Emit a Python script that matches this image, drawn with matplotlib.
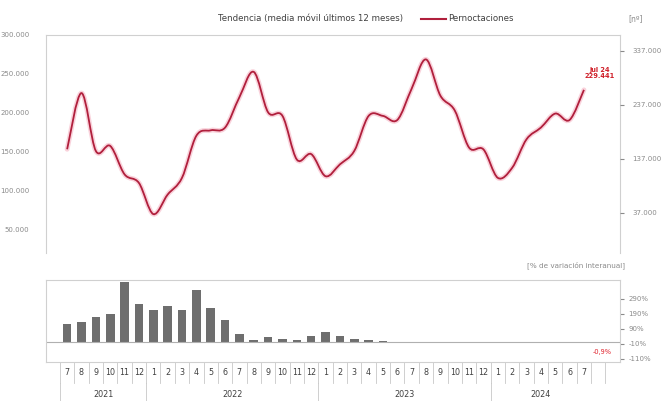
import numpy as np
import matplotlib.pyplot as plt
import matplotlib.transforms as mtransforms
from matplotlib.path import Path
from matplotlib.patches import PathPatch

# datos: pernoctaciones (media movil 12 meses) jul 2021 - jul 2024
meses = ["7", "8", "9", "10", "11", "12",
         "1", "2", "3", "4", "5", "6", "7", "8", "9", "10", "11", "12",
         "1", "2", "3", "4", "5", "6", "7", "8", "9", "10", "11", "12",
         "1", "2", "3", "4", "5", "6", "7"]
anios = ["2021", "2022", "2023", "2024"]
meses_por_anio = [6, 12, 12, 7]

pernoctaciones = [153200, 225300, 151000, 157500, 121000, 110000, 70000, 95000,
                  116500, 170500, 177500, 181000, 220000, 252500, 200600, 196000,
                  140000, 147000, 118600, 133800, 151000, 196000, 196000, 190800,
                  231000, 268500, 222000, 203000, 155300, 153000, 116500, 129400,
                  166000, 181000, 199000, 190800, 229441]

# % de variacion interanual
variacion = [125, 136, 168, 188, 403, 256, 217, 241, 217, 350, 228, 147, 53, 15,
             33, 26, 17, 41, 70, 45, 26, 13, 9, 2, 0, 3, 5, 1, 5, 1, -1, 1, 3,
             -4, -2, -1, -0.9]

y_izq = [50000, 100000, 150000, 200000, 250000, 300000]
y_der = [37000, 137000, 237000, 337000]
y_var = [-110, -10, 90, 190, 290]

gris = "#8a8a8a"
rojo = "#b01f3c"


def linea_suave(xs, ys):
    # curva tipo "linea suavizada" de Excel (bezier con tangentes catmull-rom)
    p = np.column_stack([xs, ys]).astype(float)
    verts = [p[0]]
    codes = [Path.MOVETO]
    for i in range(len(p) - 1):
        p0 = p[max(i - 1, 0)]
        p1 = p[i]
        p2 = p[i + 1]
        p3 = p[min(i + 2, len(p) - 1)]
        verts += [p1 + (p2 - p0) / 6, p2 - (p3 - p1) / 6, p2]
        codes += [Path.CURVE4] * 3
    return Path(verts, codes)


x = np.arange(len(pernoctaciones))
fig = plt.figure(figsize=(6.68, 4.01), dpi=100)

# ---- panel superior ----
ax = fig.add_axes([0.0689, 0.369, 0.859, 0.544])
curva = linea_suave(x, pernoctaciones)
ax.add_patch(PathPatch(curva, facecolor="none", edgecolor="#f4a6b8",
                       linewidth=3.5, alpha=0.5, capstyle="round"))
ax.add_patch(PathPatch(curva, facecolor="none", edgecolor=rojo, linewidth=1.3))
ax.set_xlim(-1.47, 38.5)
ax.set_ylim(20000, 300000)
ax.set_yticks(y_izq)
ax.set_yticklabels([f"{v:,}".replace(",", ".") for v in y_izq])
ax.set_xticks([])
for s in ["left", "top", "right"]:
    ax.spines[s].set_color("#d0d0d0")
    ax.spines[s].set_linewidth(0.8)
ax.spines["bottom"].set_visible(False)
ax.tick_params(axis="y", labelsize=5, colors=gris, length=0, pad=12)

ax2 = ax.twinx()
ax2.set_ylim(-37000, 366000)
ax2.set_yticks(y_der)
ax2.set_yticklabels([f"{v:,}".replace(",", ".") for v in y_der])
ax2.tick_params(axis="y", labelsize=5, colors=gris, length=3, pad=6)
for s in ax2.spines.values():
    s.set_visible(False)

ax.annotate("jul 24\n" + f"{pernoctaciones[-1]:,}".replace(",", "."),
            xy=(x[-1], pernoctaciones[-1]), xytext=(11, 12),
            textcoords="offset points", ha="center", va="center",
            fontsize=4.8, color="#d0202a", fontweight="bold", linespacing=1.1)

fig.text(0.465, 0.953, "Tendencia (media móvil últimos 12 meses)", fontsize=6.2,
         color="#404040", ha="center", va="center")
fig.lines.append(plt.Line2D([0.630, 0.668], [0.953, 0.953], color=rojo,
                            linewidth=1.5, transform=fig.transFigure))
fig.text(0.671, 0.953, "Pernoctaciones", fontsize=6.2, color="#404040",
         ha="left", va="center")
fig.text(0.940, 0.953, "[nº]", fontsize=5.5, color=gris, ha="left", va="center")

# ---- panel inferior ----
bx = fig.add_axes([0.0689, 0.0973, 0.859, 0.2044])
bx.bar(x, variacion, width=0.6, color="#6e6e6e")
bx.axhline(0, color="#b0b0b0", linewidth=0.8)
bx.set_xlim(-1.47, 38.5)
bx.set_ylim(-130, 415)
bx.yaxis.tick_right()
bx.set_yticks(y_var)
bx.set_yticklabels([f"{v}%" for v in y_var])
bx.tick_params(axis="y", labelsize=5, colors=gris, length=3, pad=3)
for s in bx.spines.values():
    s.set_color("#d0d0d0")
    s.set_linewidth(0.8)

bx.set_xticks(x)
bx.set_xticklabels(meses)
bx.tick_params(axis="x", labelsize=5.8, colors="#404040", length=0, pad=4)

trans = mtransforms.blended_transform_factory(bx.transData, bx.transAxes)
for i in range(len(meses) + 2):
    bx.plot([i - 0.5, i - 0.5], [0, -0.26], color="#c8c8c8", linewidth=0.6,
            transform=trans, clip_on=False)
inicio = 0
for anio, n in zip(anios, meses_por_anio):
    bx.plot([inicio - 0.5, inicio - 0.5], [-0.26, -0.48], color="#c8c8c8",
            linewidth=0.6, transform=trans, clip_on=False)
    bx.text(inicio + (n - 1) / 2, -0.40, anio, fontsize=5.8, color="#404040",
            ha="center", va="center", transform=trans)
    inicio += n

bx.annotate("-0,9%", xy=(x[-1], variacion[-1]), xytext=(6, -7),
            textcoords="offset points", ha="left", va="center",
            fontsize=4.8, color="#e0202a")

fig.text(0.935, 0.338, "[% de variación interanual]", fontsize=5.2, color=gris,
         ha="right", va="center")

plt.savefig("out.png", dpi=100)
